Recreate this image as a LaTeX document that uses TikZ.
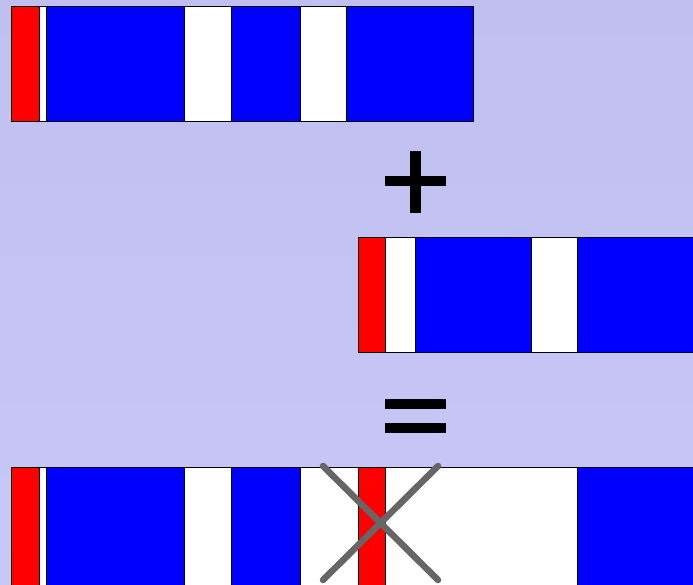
\documentclass[tikz,border=0pt]{standalone}
\begin{document}
\begin{tikzpicture}[x=1pt,y=-1pt,
  seg/.style={draw=black,line width=0.8pt},
  red seg/.style={seg,fill=red},
  white seg/.style={seg,fill=white},
  blue seg/.style={seg,fill=blue},
  sign/.style={fill=black},
  cross/.style={draw=black!60,line width=6.5pt,line cap=round}]
\useasboundingbox (0,0) rectangle (693,584);
\shade[top color={rgb,255:red,192;green,192;blue,240},bottom color={rgb,255:red,200;green,200;blue,248}] (0,0) rectangle (693,584);
% bar 1
\path[red seg] (11.5,6.5) rectangle (39,121.5);
\path[white seg] (39,6.5) rectangle (46,121.5);
\path[blue seg] (46,6.5) rectangle (184,121.5);
\path[white seg] (184,6.5) rectangle (231,121.5);
\path[blue seg] (231,6.5) rectangle (300,121.5);
\path[white seg] (300,6.5) rectangle (346,121.5);
\path[blue seg] (346,6.5) rectangle (473,121.5);
% plus
\path[sign] (410,151) rectangle (421,213);
\path[sign] (385,176) rectangle (446,186);
% bar 2
\path[red seg] (358,237) rectangle (385,352);
\path[white seg] (385,237) rectangle (415,352);
\path[blue seg] (415,237) rectangle (531,352);
\path[white seg] (531,237) rectangle (577,352);
\path[blue seg] (577,237) rectangle (700,352);
% equals
\path[sign] (385,399) rectangle (446,409);
\path[sign] (385,423) rectangle (446,433);
% bar 3
\path[red seg] (11.5,467.5) rectangle (39,590);
\path[white seg] (39,467.5) rectangle (46,590);
\path[blue seg] (46,467.5) rectangle (184,590);
\path[white seg] (184,467.5) rectangle (231,590);
\path[blue seg] (231,467.5) rectangle (300,590);
\path[white seg] (300,467.5) rectangle (358,590);
\path[red seg] (358,467.5) rectangle (385,590);
\path[white seg] (385,467.5) rectangle (577,590);
\path[blue seg] (577,467.5) rectangle (700,590);
% cross
\coordinate (c1) at (323,466);
\coordinate (c2) at (438,580);
\coordinate (c3) at (438,466);
\coordinate (c4) at (323,580);
\draw[cross] (c1) -- (c2);
\draw[cross] (c3) -- (c4);
\end{tikzpicture}
\end{document}
